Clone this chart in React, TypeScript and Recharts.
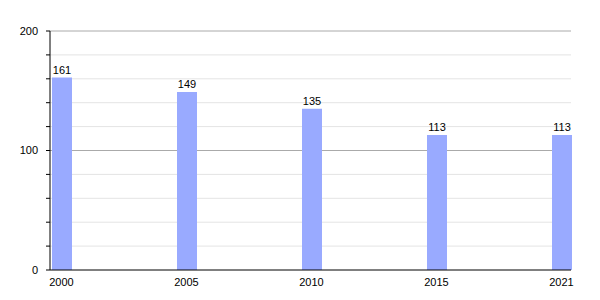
import { Bar, BarChart, CartesianGrid, LabelList, XAxis, YAxis } from "recharts"

const years = ["2000", "2005", "2010", "2015", "2021"]
const population = [161, 149, 135, 113, 113]
const yTicks = [0, 20, 40, 60, 80, 100, 120, 140, 160, 180, 200]
const yLabels = [0, 100, 200]
const minorLines = [20, 40, 60, 80, 120, 140, 160, 180]

const data = years.map((year, i) => ({ year, value: population[i] }))

const font = "'Liberation Sans', Arial, sans-serif"

export default function App() {
  return (
    <div style={{ width: 600, height: 300, fontFamily: font }}>
      <style>{`body{margin:0}`}</style>
      <BarChart width={600} height={300} data={data} margin={{ top: 31, right: 29, left: 0, bottom: 0 }}>
        <CartesianGrid vertical={false} stroke="#e4e4e4" horizontalValues={minorLines} />
        <CartesianGrid vertical={false} stroke="#aaaaaa" horizontalValues={[100, 200]} />
        <XAxis
          dataKey="year"
          height={30}
          tickLine={false}
          axisLine={{ stroke: "#000" }}
          padding={{ left: -51, right: -53 }}
          tick={{ fill: "#000", fontSize: 11 }}
          tickMargin={2}
          interval={0}
        />
        <YAxis
          width={50}
          domain={[0, 200]}
          ticks={yTicks}
          tickSize={4}
          tickMargin={8}
          axisLine={{ stroke: "#000" }}
          tickLine={{ stroke: "#000" }}
          tick={{ fill: "#000", fontSize: 11 }}
          tickFormatter={(v) => (yLabels.includes(v) ? String(v) : "")}
        />
        <Bar dataKey="value" fill="#99aaff" barSize={20} isAnimationActive={false}>
          <LabelList dataKey="value" position="top" offset={4} fill="#000" fontSize={11} />
        </Bar>
      </BarChart>
    </div>
  )
}
